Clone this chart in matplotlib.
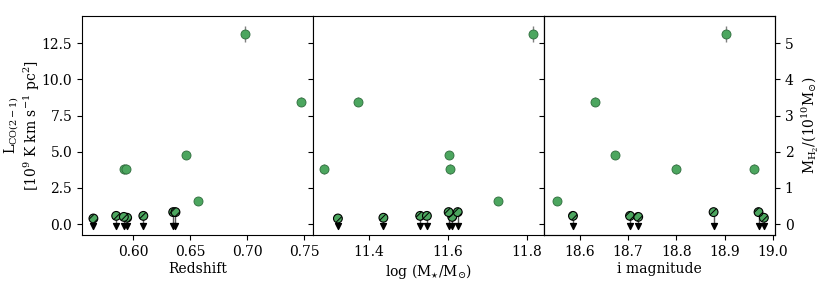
import numpy as np
import matplotlib
matplotlib.use("Agg")
import matplotlib.pyplot as plt

plt.rcParams['font.family'] = ['DejaVu Serif']
plt.rcParams['mathtext.fontset'] = 'dejavuserif'
plt.rcParams['font.size'] = 10
plt.rcParams['hatch.linewidth'] = 0.7

# detections (CO(2-1) luminosity, 1e9 K km/s pc^2)
det_z = [0.698, 0.747, 0.6465, 0.657, 0.592, 0.5939]
det_mass = [11.816, 11.373, 11.604, 11.727, 11.288, 11.606]
det_imag = [18.903, 18.631, 18.672, 18.553, 18.799, 18.961]
det_L = [13.12, 8.47, 4.81, 1.61, 3.82, 3.82]
det_err = [0.55, 0.3, 0.2, 0.2, 0.35, 0.35]

# upper limits
lim_z = [0.565, 0.5946, 0.585, 0.6088, 0.5917, 0.635, 0.637]
lim_mass = [11.322, 11.437, 11.530, 11.547, 11.611, 11.602, 11.625]
lim_imag = [np.nan, 18.981, 18.586, 18.704, 18.721, 18.877, 18.970]
lim_L = [0.39, 0.44, 0.57, 0.57, 0.50, 0.83, 0.83]

alpha_conv = 0.4  # L_CO -> M_H2 (1e10 Msun)
green = '#4ca65f'

fig, axes = plt.subplots(1, 3, sharey=True, figsize=(8.3, 2.91), dpi=100)
fig.subplots_adjust(left=0.0988, right=0.9337, bottom=0.192, top=0.946, wspace=0)

xs = [(det_z, lim_z), (det_mass, lim_mass), (det_imag, lim_imag)]
xlabels = ['Redshift', r'log (M$_{\star}$/M$_{\odot}$)', 'i magnitude']
xlims = [(0.555, 0.7576), (11.259, 11.843), (18.526, 19.004)]

for ax, (xd, xl), lab, lim in zip(axes, xs, xlabels, xlims):
    ax.errorbar(xd, det_L, yerr=det_err, fmt='o', color=green, mec='#2e6b3c',
                mew=0.6, ms=6.5, ecolor='grey', elinewidth=1, capsize=0, zorder=3)
    ax.vlines(xl, -0.15, lim_L, color='#555555', lw=1, zorder=1)
    ax.scatter(xl, [-0.15] * len(xl), marker='v', s=18, color='k', zorder=2)
    ax.scatter(xl, lim_L, s=40, facecolor=green, edgecolor='k', hatch='////',
               linewidth=0.8, zorder=4)
    ax.set_xlabel(lab, labelpad=2)
    ax.set_xlim(*lim)

axes[0].set_ylim(-0.76, 14.4)
axes[0].set_ylabel('L$_{\\rm CO(2-1)}$\n[10$^9$ K km s$^{-1}$ pc$^2$]',
                   linespacing=1.0)
axes[0].yaxis.set_label_coords(-0.175, 0.5)
axes[0].set_xticks([0.60, 0.65, 0.70, 0.75])
axes[1].set_xticks([11.4, 11.6, 11.8])
axes[2].set_xticks([18.6, 18.7, 18.8, 18.9, 19.0])

ax2 = axes[2].twinx()
lo, hi = axes[0].get_ylim()
ax2.set_ylim(lo * alpha_conv, hi * alpha_conv)
ax2.set_yticks([0, 1, 2, 3, 4, 5])
ax2.set_ylabel(r'M$_{\rm H_2}$/(10$^{10}$M$_{\odot}$)', labelpad=4)

plt.savefig('out.png')
